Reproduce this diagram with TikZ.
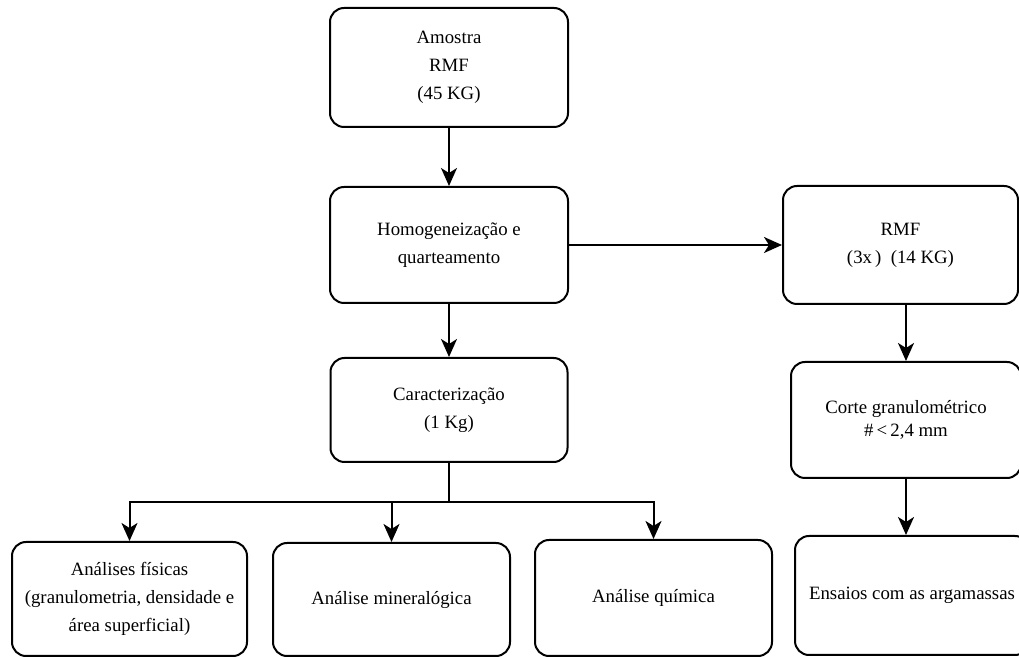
\documentclass[tikz,border=0pt]{standalone}
\usepackage{fontspec}
\setmainfont{Liberation Serif}
\usetikzlibrary{arrows.meta}
\tikzset{
  caixa/.style = {draw, line width=1pt, rounded corners=7pt, align=center,
    font=\fontsize{9.4}{14}\selectfont, inner sep=0pt},
  seta/.style = {line width=1pt, -{Stealth[length=9pt,width=8pt,inset=2.5pt]}},
  linha/.style = {line width=1pt}
}
\begin{document}
\begin{tikzpicture}[x=0.5pt,y=-0.5pt]
\useasboundingbox (0,0) rectangle (1019,657);
\node [caixa, minimum width=119pt, minimum height=59.5pt] (amostra) at (449,67.5) {Amostra\\RMF\\(45 KG)};
\node [caixa, minimum width=119pt, minimum height=58pt] (homog) at (449,245) {Homogeneização e\\quarteamento};
\node [caixa, minimum width=117.5pt, minimum height=59pt] (rmf) at (900.5,245) {RMF\\(3x\,)\enspace(14 KG)};
\node [caixa, minimum width=118.5pt, minimum height=52pt] (carac) at (449,410) {Caracterização\\(1 Kg)};
\node [caixa, minimum width=115pt, minimum height=58pt, font=\fontsize{9.4}{11.5}\selectfont] (corte) at (906,420) {Corte granulométrico\\\#\,<\,2,4 mm};
\node [caixa, minimum width=117.5pt, minimum height=57pt] (fis) at (129.5,599) {Análises físicas\\(granulometria, densidade e\\área superficial)};
\node [caixa, minimum width=118.5pt, minimum height=56.5pt] (min) at (391.5,599.5) {Análise mineralógica};
\node [caixa, minimum width=118.5pt, minimum height=58pt] (qui) at (653.5,598) {Análise química};
\node [caixa, minimum width=117pt, minimum height=59.5pt] (ensaios) at (912,595.5) {Ensaios com as argamassas};
\coordinate (split) at (449,502);
\draw [seta] (amostra) -- (homog);
\draw [seta] (homog) -- (rmf);
\draw [seta] (homog) -- (carac);
\draw [seta] (rmf.south -| corte.north) -- (corte.north);
\draw [seta] (corte) -- (corte |- ensaios.north);
\draw [linha] (carac) -- (split);
\draw [seta] (split) -| (fis.north);
\draw [seta] (split) -| (min.north);
\draw [seta] (split) -| (qui.north);
\end{tikzpicture}
\end{document}
